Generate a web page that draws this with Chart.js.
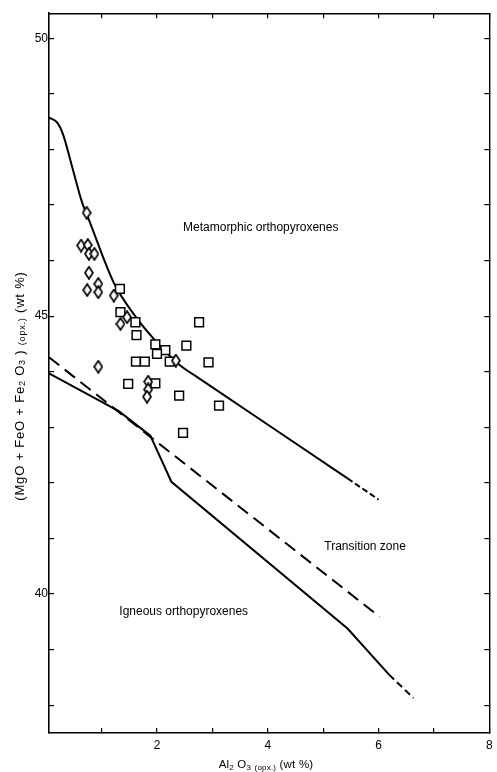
<!DOCTYPE html>
<html>
<head>
<meta charset="utf-8">
<title>Orthopyroxene Al2O3 vs MgO+FeO+Fe2O3</title>
<script src="https://cdn.jsdelivr.net/npm/chart.js@4.4.1/dist/chart.umd.min.js"></script>
<style>
  html, body { margin: 0; padding: 0; background: #fff; }
  #wrap { width: 497px; height: 772px; }
</style>
</head>
<body>
<div id="wrap"><canvas id="opxChart" width="497" height="772"></canvas></div>
<script>
// Data: Al2O3 (opx.) wt% vs MgO+FeO+Fe2O3 (opx.) wt%

// Diamond samples
const diamondAl = [0.73, 0.63, 0.75, 0.77, 0.87, 0.77, 0.74, 0.94, 0.94, 1.22, 1.46, 1.34, 2.34, 0.94, 1.84, 1.84, 1.82];
const diamondMg = [46.86, 46.27, 46.28, 46.12, 46.12, 45.78, 45.47, 45.58, 45.43, 45.37, 44.98, 44.86, 44.20, 44.09, 43.82, 43.68, 43.55];

// Square samples
const squareAl = [1.33, 1.34, 1.61, 1.63, 2.76, 1.97, 2.15, 2.53, 2.00, 1.62, 1.78, 2.23, 2.93, 1.48, 1.97, 2.40, 3.12, 2.47];
const squareMg = [45.49, 45.07, 44.89, 44.66, 44.89, 44.49, 44.39, 44.47, 44.32, 44.18, 44.18, 44.18, 44.17, 43.78, 43.79, 43.57, 43.39, 42.90];

// Boundary lines
const metaLineAl = [0.05, 0.2, 0.3, 0.47, 0.64, 0.78, 1.22, 1.6, 1.97, 2.42, 2.7, 5.44, 6.0];
const metaLineMg = [48.57, 48.48, 48.28, 47.68, 47.07, 46.71, 45.6, 45.01, 44.56, 44.11, 43.92, 42.08, 41.70];
const transLineAl = [0.05, 6.02];
const transLineMg = [44.26, 39.59];
const ignLineAl = [0.05, 1.31, 1.88, 2.26, 5.44, 6.19, 6.63];
const ignLineMg = [43.97, 43.29, 42.85, 42.02, 39.38, 38.55, 38.13];

// Axis ticks
const xTickValues = [1, 2, 3, 4, 5, 6, 7, 8];
const xTickLabels = [2, 4, 6, 8];
const yTickValues = [38, 39, 40, 41, 42, 43, 44, 45, 46, 47, 48, 49, 50];
const yTickLabels = [40, 45, 50];

// Text
const regionLabels = [
  { text: 'Metamorphic orthopyroxenes', al: 2.47, mg: 46.59 },
  { text: 'Transition zone', al: 5.02, mg: 40.86 },
  { text: 'Igneous orthopyroxenes', al: 1.32, mg: 39.68 }
];
const xTitleParts = [['Al', 0], ['2', 1], [' O', 0], ['3', 1], [' ', 0], ['(opx.)', 1], [' (wt %)', 0]];
const yTitleParts = [['(MgO + FeO + Fe', 0], ['2', 1], [' O', 0], ['3', 1], [' ) ', 0], ['(opx.)', 1], [' (wt %)', 0]];

const INK = '#000';
const FONT = '"Liberation Sans", Arial, Helvetica, sans-serif';

function pairs(xs, ys) {
  return xs.map((v, i) => ({ x: v, y: ys[i] }));
}

// Tall white diamond used as point style
function makeDiamond() {
  const c = document.createElement('canvas');
  c.width = 10; c.height = 14;
  const g = c.getContext('2d');
  g.beginPath();
  g.moveTo(5, 1);
  g.lineTo(9, 7);
  g.lineTo(5, 13);
  g.lineTo(1, 7);
  g.closePath();
  g.fillStyle = '#fff';
  g.fill();
  g.lineWidth = 1.7;
  g.strokeStyle = INK;
  g.stroke();
  return c;
}

// Draw text with subscript pieces, centred on (0,0) of the current transform
function drawRich(ctx, parts, size, spacing) {
  const subSize = Math.round(size * 0.72);
  ctx.letterSpacing = spacing + 'px';
  const widths = parts.map(([t, sub]) => {
    ctx.font = (sub ? subSize : size) + 'px ' + FONT;
    return ctx.measureText(t).width;
  });
  const total = widths.reduce((a, b) => a + b, 0);
  let x = -total / 2;
  parts.forEach(([t, sub], i) => {
    ctx.font = (sub ? subSize : size) + 'px ' + FONT;
    ctx.fillText(t, x, sub ? 3 : 0);
    x += widths[i];
  });
  ctx.letterSpacing = '0px';
}

const textPlugin = {
  id: 'opxText',
  afterDraw(chart) {
    const { ctx, scales: { x, y } } = chart;
    ctx.save();
    ctx.fillStyle = INK;
    ctx.textBaseline = 'middle';
    ctx.textAlign = 'left';
    ctx.font = '12px ' + FONT;
    regionLabels.forEach(l => {
      ctx.fillText(l.text, x.getPixelForValue(l.al), y.getPixelForValue(l.mg));
    });

    // x axis title
    ctx.save();
    ctx.translate(266, 765);
    drawRich(ctx, xTitleParts, 11.5, 0.2);
    ctx.restore();

    // y axis title
    ctx.save();
    ctx.translate(20, 386);
    ctx.rotate(-Math.PI / 2);
    drawRich(ctx, yTitleParts, 13, 0.8);
    ctx.restore();
    ctx.restore();
  }
};

const diamondStyle = makeDiamond();
const lastSeg = (n, dash) => c => (c.p0DataIndex >= n - 2 ? dash : undefined);

const ctx = document.getElementById('opxChart').getContext('2d');
const chart = new Chart(ctx, {
  type: 'scatter',
  data: {
    datasets: [
      {
        label: 'Diamonds',
        data: pairs(diamondAl, diamondMg),
        pointStyle: diamondStyle,
        pointRadius: 6,
        order: 0
      },
      {
        label: 'Squares',
        data: pairs(squareAl, squareMg),
        pointStyle: 'rect',
        pointRadius: 6.2,
        pointBackgroundColor: '#fff',
        pointBorderColor: INK,
        pointBorderWidth: 1.5,
        order: 0
      },
      {
        label: 'Metamorphic boundary',
        data: pairs(metaLineAl, metaLineMg),
        showLine: true,
        pointRadius: 0,
        borderColor: INK,
        borderWidth: 2,
        cubicInterpolationMode: 'monotone',
        segment: { borderDash: lastSeg(metaLineAl.length, [6, 3]) },
        order: 1
      },
      {
        label: 'Transition',
        data: pairs(transLineAl, transLineMg),
        showLine: true,
        pointRadius: 0,
        borderColor: INK,
        borderWidth: 2,
        borderDash: [13, 7],
        order: 1
      },
      {
        label: 'Igneous boundary',
        data: pairs(ignLineAl, ignLineMg),
        showLine: true,
        pointRadius: 0,
        borderColor: INK,
        borderWidth: 2,
        segment: { borderDash: lastSeg(ignLineAl.length, [7, 4]) },
        order: 1
      }
    ]
  },
  options: {
    responsive: false,
    animation: false,
    layout: { padding: { top: 12, right: 2, left: 0, bottom: 0 } },
    plugins: {
      legend: { display: false },
      tooltip: { enabled: false }
    },
    scales: {
      x: {
        type: 'linear',
        position: 'bottom',
        min: 0.05,
        max: 8,
        afterBuildTicks: s => { s.ticks = xTickValues.map(v => ({ value: v })); },
        afterFit: s => { s.height = 39; s.paddingLeft = 0; s.paddingRight = 0; },
        ticks: {
          autoSkip: false,
          maxRotation: 0,
          padding: 10,
          color: INK,
          font: { family: FONT, size: 12 },
          callback: v => (xTickLabels.includes(v) ? String(v) : '')
        },
        grid: { drawOnChartArea: false, tickLength: -5, color: INK, lineWidth: 1.2 },
        border: { display: true, color: INK, width: 1.6 }
      },
      y: {
        type: 'linear',
        position: 'left',
        min: 37.5,
        max: 50.45,
        afterBuildTicks: s => { s.ticks = yTickValues.map(v => ({ value: v })); },
        afterFit: s => { s.width = 49; },
        ticks: {
          autoSkip: false,
          padding: 6,
          color: INK,
          font: { family: FONT, size: 12 },
          callback: v => (yTickLabels.includes(v) ? String(v) : '')
        },
        grid: { drawOnChartArea: false, tickLength: -5, color: INK, lineWidth: 1.2 },
        border: { display: true, color: INK, width: 1.6 }
      },
      xTop: {
        type: 'linear',
        position: 'top',
        min: 0.05,
        max: 8,
        afterBuildTicks: s => { s.ticks = xTickValues.map(v => ({ value: v })); },
        afterFit: s => { s.height = 0; s.paddingLeft = 0; s.paddingRight = 0; },
        ticks: { display: false },
        grid: { drawOnChartArea: false, tickLength: -5, color: INK, lineWidth: 1.2 },
        border: { display: true, color: INK, width: 1.4 }
      },
      yRight: {
        type: 'linear',
        position: 'right',
        min: 37.5,
        max: 50.45,
        afterBuildTicks: s => { s.ticks = yTickValues.map(v => ({ value: v })); },
        afterFit: s => { s.width = 0; },
        ticks: { display: false },
        grid: { drawOnChartArea: false, tickLength: -5, color: INK, lineWidth: 1.2 },
        border: { display: true, color: INK, width: 1.4 }
      }
    }
  },
  plugins: [textPlugin]
});
</script>
</body>
</html>
